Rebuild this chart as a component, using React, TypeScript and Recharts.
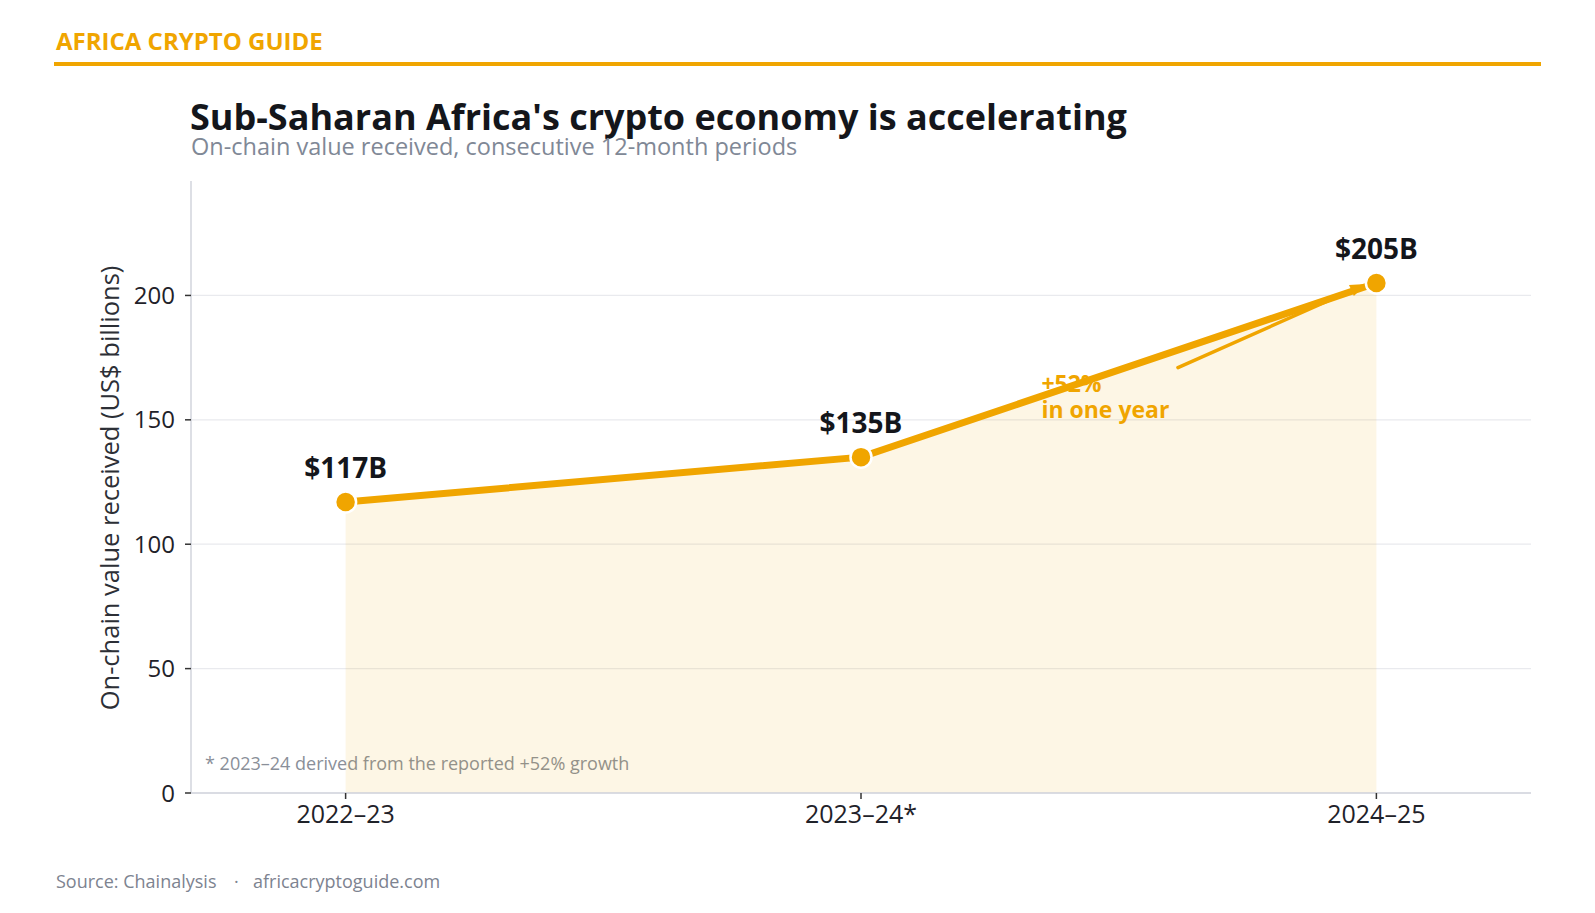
import React from "react"
import {
  ComposedChart,
  Area,
  Line,
  XAxis,
  YAxis,
  CartesianGrid,
  ReferenceLine,
  ReferenceDot,
  LabelList,
} from "recharts"

// 12-month periods and on-chain value received (US$ billions)
const periods = ["2022–23", "2023–24*", "2024–25"]
const valueReceived = [117, 135, 205]
const yTicks = [0, 50, 100, 150, 200]

// "+52% in one year" callout: text anchor and arrow ends, in data units
const calloutText = ["+52%", "in one year"]
const calloutAnchor = [1.35, 161]
const arrowFrom = [1.615, 171]
const arrowTo = [1.98, 204.6]

const ORANGE = "#F0A500"
const FONT = "'Open Sans', 'Noto Sans', sans-serif"

const data = periods.map((p, i) => ({ x: i, period: p, value: valueReceived[i] }))

const ValueLabel = (props: any) => {
  const { x, y, value } = props
  return (
    <text x={x} y={y - 24} textAnchor="middle" fontFamily={FONT} fontSize={28} fontWeight={700} fill="#14161b">
      ${value}B
    </text>
  )
}

const Arrow = (props: any) => {
  const { x1, y1, x2, y2 } = props
  const ang = Math.atan2(y2 - y1, x2 - x1)
  const len = 16
  const w = 6
  const bx = x2 - len * Math.cos(ang)
  const by = y2 - len * Math.sin(ang)
  const px = -Math.sin(ang) * w
  const py = Math.cos(ang) * w
  return (
    <g>
      <line x1={x1} y1={y1} x2={bx} y2={by} stroke={ORANGE} strokeWidth={3.5} strokeLinecap="round" />
      <polygon points={`${x2},${y2} ${bx + px},${by + py} ${bx - px},${by - py}`} fill={ORANGE} />
    </g>
  )
}

const Callout = (props: any) => {
  const { cx, cy } = props
  return (
    <text x={cx} y={cy} fontFamily={FONT} fontSize={23} fontWeight={700} fill={ORANGE}>
      {calloutText.map((t, i) => (
        <tspan key={t} x={cx} dy={i === 0 ? 0 : 26}>
          {t}
        </tspan>
      ))}
    </text>
  )
}

export default function App() {
  return (
    <div style={{ position: "absolute", left: 0, top: 0, width: 1595, height: 913, background: "#fff" }}>
      <svg width={1595} height={913} style={{ position: "absolute", left: 0, top: 0 }}>
        <text x={56} y={50} fontFamily={FONT} fontSize={24} fontWeight={700} fill={ORANGE}>
          AFRICA CRYPTO GUIDE
        </text>
        <rect x={54} y={62} width={1487} height={4} fill={ORANGE} />
        <text x={190} y={130} fontFamily={FONT} fontSize={36} fontWeight={700} fill="#14161b">
          Sub-Saharan Africa's crypto economy is accelerating
        </text>
        <text x={191} y={155} fontFamily={FONT} fontSize={23.5} fill="#808896">
          On-chain value received, consecutive 12-month periods
        </text>
        <text
          transform="translate(119,488) rotate(-90)"
          textAnchor="middle"
          fontFamily={FONT}
          fontSize={25.5}
          fill="#2c2f36"
        >
          On-chain value received (US$ billions)
        </text>
        <text x={205} y={770} fontFamily={FONT} fontSize={18} fill="#8a8f99">
          * 2023–24 derived from the reported +52% growth
        </text>
        <text y={888} fontFamily={FONT} fontSize={18} fill="#7d8390">
          <tspan x={56}>Source: Chainalysis</tspan>
          <tspan x={234}>·</tspan>
          <tspan x={253}>africacryptoguide.com</tspan>
        </text>
      </svg>
      <div style={{ position: "absolute", left: 0, top: 0 }}>
        <ComposedChart
          width={1595}
          height={913}
          data={data}
          margin={{ top: 181, right: 64, bottom: 80, left: 111 }}
        >
          <CartesianGrid horizontal vertical={false} syncWithTicks stroke="#e9eaee" strokeWidth={1.2} />
          <XAxis
            dataKey="x"
            type="number"
            domain={[-0.3, 2.3]}
            ticks={[0, 1, 2]}
            tickFormatter={(i: number) => periods[i]}
            height={40}
            tickSize={6}
            tickMargin={6}
            axisLine={{ stroke: "#d2d5dc", strokeWidth: 1.5 }}
            tickLine={{ stroke: "#333", strokeWidth: 1.5 }}
            tick={{ fontFamily: FONT, fontSize: 25, fill: "#1f2229" }}
          />
          <YAxis
            type="number"
            domain={[0, 246]}
            ticks={yTicks}
            width={80}
            tickSize={6}
            tickMargin={10}
            axisLine={{ stroke: "#d2d5dc", strokeWidth: 1.5 }}
            tickLine={{ stroke: "#333", strokeWidth: 1.5 }}
            tick={{ fontFamily: FONT, fontSize: 24, fill: "#1f2229" }}
          />
          <Area
            dataKey="value"
            type="linear"
            stroke="none"
            fill={ORANGE}
            fillOpacity={0.1}
            isAnimationActive={false}
          />
          <ReferenceDot
            x={calloutAnchor[0]}
            y={calloutAnchor[1]}
            shape={(p: any) => <Callout {...p} />}
            ifOverflow="visible"
          />
          <Line
            dataKey="value"
            type="linear"
            stroke={ORANGE}
            strokeWidth={7}
            dot={{ r: 10.5, fill: ORANGE, stroke: "#fff", strokeWidth: 2.5 }}
            activeDot={false}
            isAnimationActive={false}
          >
            <LabelList dataKey="value" content={(p: any) => <ValueLabel {...p} />} />
          </Line>
          <ReferenceLine
            segment={[
              { x: arrowFrom[0], y: arrowFrom[1] },
              { x: arrowTo[0], y: arrowTo[1] },
            ]}
            shape={(p: any) => <Arrow {...p} />}
            ifOverflow="visible"
          />
        </ComposedChart>
      </div>
    </div>
  )
}
